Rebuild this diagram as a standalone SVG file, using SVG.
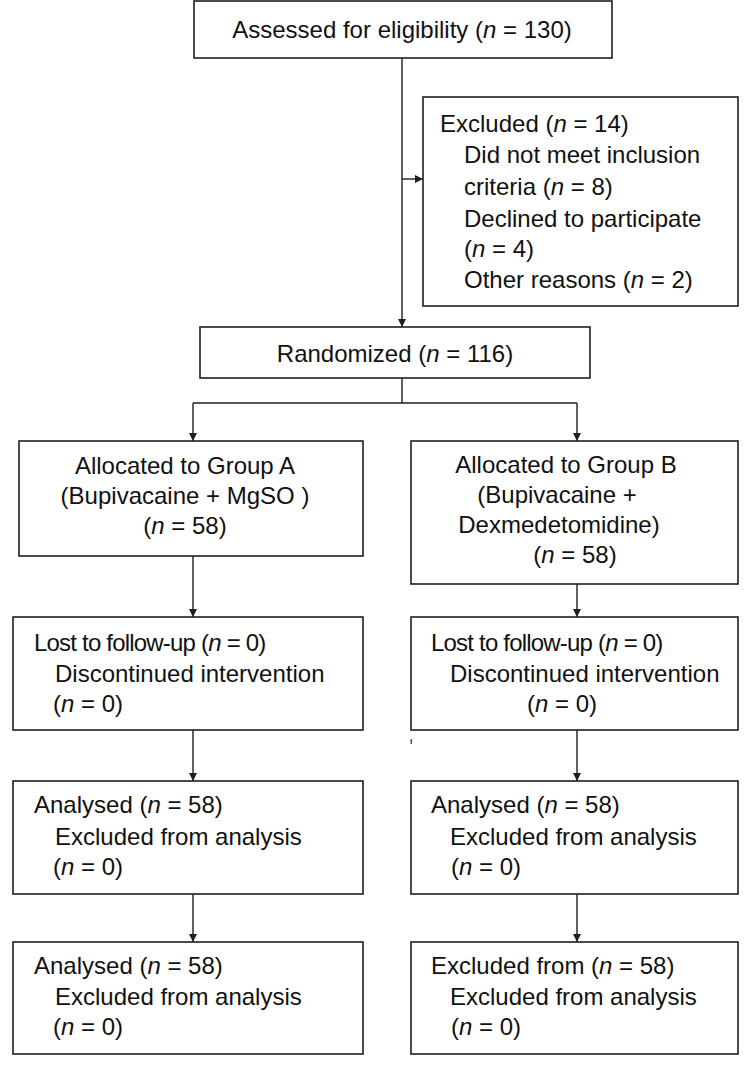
<svg xmlns="http://www.w3.org/2000/svg" width="750" height="1070" viewBox="0 0 750 1070">
<style>
  .box { fill: #ffffff; stroke: #1e1e1e; stroke-width: 1.6; }
  .t { font-family: "Liberation Sans", Arial, sans-serif; font-size: 24px; fill: #111111; }
  .c { text-anchor: middle; }
  .i { font-style: italic; }
  .tight { letter-spacing: -0.8px; }
  .ln { fill: none; stroke: #1e1e1e; stroke-width: 1.4; }
</style>
<defs>
  <marker id="ah" markerWidth="9" markerHeight="9" refX="8" refY="4" orient="auto" markerUnits="userSpaceOnUse">
    <path d="M0,0 L8,4 L0,8 Z" fill="#1e1e1e"/>
  </marker>
</defs>
<rect width="750" height="1070" fill="#ffffff"/>

<g id="connectors">
  <line class="ln" x1="402" y1="58" x2="402" y2="327" marker-end="url(#ah)"/>
  <line class="ln" x1="402" y1="179" x2="423" y2="179" marker-end="url(#ah)"/>
  <polyline class="ln" points="402,378 402,403"/>
  <polyline class="ln" points="193,403 577,403"/>
  <line class="ln" x1="193" y1="403" x2="193" y2="441" marker-end="url(#ah)"/>
  <line class="ln" x1="577" y1="403" x2="577" y2="441" marker-end="url(#ah)"/>
  <line class="ln" x1="193" y1="556" x2="193" y2="617" marker-end="url(#ah)"/>
  <line class="ln" x1="577" y1="584" x2="577" y2="617" marker-end="url(#ah)"/>
  <line class="ln" x1="193" y1="730" x2="193" y2="781" marker-end="url(#ah)"/>
  <line class="ln" x1="577" y1="730" x2="577" y2="781" marker-end="url(#ah)"/>
  <line class="ln" x1="193" y1="894" x2="193" y2="942" marker-end="url(#ah)"/>
  <line class="ln" x1="577" y1="894" x2="577" y2="942" marker-end="url(#ah)"/>
</g>

<g id="assessed">
  <rect class="box" x="194" y="1" width="418" height="57"/>
  <text class="t c" x="402" y="38">Assessed for eligibility (<tspan class="i">n</tspan> = 130)</text>
</g>

<g id="excluded">
  <rect class="box" x="423" y="97" width="315" height="209"/>
  <text class="t" x="440" y="132">Excluded (<tspan class="i">n</tspan> = 14)</text>
  <text class="t" x="464" y="163">Did not meet inclusion</text>
  <text class="t" x="464" y="195">criteria (<tspan class="i">n</tspan> = 8)</text>
  <text class="t" x="464" y="227">Declined to participate</text>
  <text class="t" x="464" y="257">(<tspan class="i">n</tspan> = 4)</text>
  <text class="t" x="464" y="288">Other reasons (<tspan class="i">n</tspan> = 2)</text>
</g>

<g id="randomized">
  <rect class="box" x="200" y="327" width="390" height="51"/>
  <text class="t c" x="395" y="362">Randomized (<tspan class="i">n</tspan> = 116)</text>
</g>

<g id="groupA">
  <rect class="box" x="19" y="441" width="344" height="115"/>
  <text class="t c" x="185" y="474">Allocated to Group A</text>
  <text class="t c" x="185" y="504">(Bupivacaine + MgSO )</text>
  <text class="t c" x="185" y="534">(<tspan class="i">n</tspan> = 58)</text>
</g>

<g id="groupB">
  <rect class="box" x="411" y="441" width="327" height="143"/>
  <text class="t c" x="566" y="473">Allocated to Group B</text>
  <text class="t c" x="557" y="503">(Bupivacaine +</text>
  <text class="t c" x="559" y="533">Dexmedetomidine)</text>
  <text class="t c" x="575" y="563">(<tspan class="i">n</tspan> = 58)</text>
</g>

<g id="lostA">
  <rect class="box" x="13" y="617" width="350" height="113"/>
  <text class="t tight" x="34" y="651">Lost to follow-up (<tspan class="i">n</tspan> = 0)</text>
  <text class="t" x="55" y="682">Discontinued intervention</text>
  <text class="t" x="53" y="712">(<tspan class="i">n</tspan> = 0)</text>
</g>

<g id="lostB">
  <rect class="box" x="411" y="617" width="327" height="113"/>
  <text class="t tight" x="431" y="651">Lost to follow-up (<tspan class="i">n</tspan> = 0)</text>
  <text class="t" x="450" y="682">Discontinued intervention</text>
  <text class="t" x="527" y="712">(<tspan class="i">n</tspan> = 0)</text>
</g>

<g id="analysedA">
  <rect class="box" x="13" y="781" width="350" height="113"/>
  <text class="t" x="34" y="813">Analysed (<tspan class="i">n</tspan> = 58)</text>
  <text class="t" x="55" y="845">Excluded from analysis</text>
  <text class="t" x="53" y="875">(<tspan class="i">n</tspan> = 0)</text>
</g>

<g id="analysedB">
  <rect class="box" x="411" y="781" width="327" height="113"/>
  <text class="t" x="431" y="813">Analysed (<tspan class="i">n</tspan> = 58)</text>
  <text class="t" x="450" y="845">Excluded from analysis</text>
  <text class="t" x="451" y="875">(<tspan class="i">n</tspan> = 0)</text>
</g>

<g id="finalA">
  <rect class="box" x="13" y="942" width="350" height="112"/>
  <text class="t" x="34" y="974">Analysed (<tspan class="i">n</tspan> = 58)</text>
  <text class="t" x="55" y="1005">Excluded from analysis</text>
  <text class="t" x="53" y="1035">(<tspan class="i">n</tspan> = 0)</text>
</g>

<g id="finalB">
  <rect class="box" x="411" y="942" width="327" height="112"/>
  <text class="t" x="431" y="974">Excluded from (<tspan class="i">n</tspan> = 58)</text>
  <text class="t" x="450" y="1005">Excluded from analysis</text>
  <text class="t" x="451" y="1035">(<tspan class="i">n</tspan> = 0)</text>
</g>

<rect x="410.5" y="739" width="1.5" height="5" fill="#555555"/>
</svg>
